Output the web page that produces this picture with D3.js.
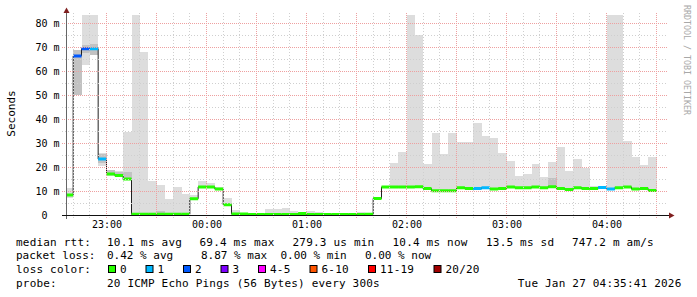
<!DOCTYPE html>
<html>
<head>
<meta charset="utf-8">
<script src="https://cdn.jsdelivr.net/npm/d3@7"></script>
<style>
  body { margin: 0; background: #fff; }
  text { font-family: "DejaVu Sans Mono", monospace; }
</style>
</head>
<body>
<svg id="chart" width="697" height="297"></svg>
<script>
// median rtt per 5 minute step, ms (first step starts 22:35)
var median = [8.5, 66.5, 69.5, 69.5, 23.5, 17.3, 16.7, 15.2, 0.5, 0.5,
  0.5, 0.5, 0.5, 0.5, 0.5, 7.0, 11.9, 11.9, 11.0, 4.5,
  0.6, 0.6, 0.4, 0.4, 0.4, 0.4, 0.4, 0.4, 0.8, 0.4,
  0.4, 0.4, 0.4, 0.4, 0.4, 0.4, 0.5, 7.1, 11.9, 11.9,
  11.9, 11.9, 12.0, 11.2, 10.3, 10.3, 10.3, 11.6, 11.2, 11.2,
  11.6, 11.0, 11.2, 11.9, 11.6, 11.6, 11.9, 11.6, 12.0, 11.2,
  10.8, 11.6, 11.3, 11.3, 11.7, 11.0, 11.6, 11.9, 11.0, 11.2,
  10.4];
// lost pings per step (index into lossColors)
var loss = [0, 2, 2, 1, 1, 0, 0, 0, 0, 0,
  0, 0, 0, 0, 0, 0, 0, 0, 0, 0,
  0, 0, 0, 0, 0, 0, 0, 0, 0, 0,
  0, 0, 0, 0, 0, 0, 0, 0, 0, 0,
  0, 0, 0, 0, 0, 0, 0, 0, 0, 1,
  1, 0, 0, 0, 0, 0, 0, 0, 0, 0,
  0, 0, 0, 0, 1, 1, 0, 0, 0, 0,
  0];
// smoke range (min / max ping of the step), ms
var smokeMin = [7.5, 50.2, 62.7, 66.8, 20.7, 16.5, 16.0, 14.7, 0.2, 0.2,
  0.2, 0.2, 0.2, 0.2, 0.2, 6.7, 11.5, 11.5, 10.6, 4.2,
  0.2, 0.2, 0.2, 0.2, 0.2, 0.2, 0.2, 0.2, 0.2, 0.2,
  0.2, 0.2, 0.2, 0.2, 0.2, 0.2, 0.2, 6.8, 11.4, 11.4,
  11.4, 11.4, 11.5, 10.7, 9.8, 9.8, 9.8, 11.1, 10.7, 10.7,
  11.1, 10.5, 10.7, 11.4, 11.1, 11.1, 11.4, 11.1, 11.5, 10.7,
  10.3, 11.1, 10.8, 10.8, 11.2, 10.5, 11.1, 11.4, 10.5, 10.7,
  9.9];
var smokeMax = [11.6, 69.0, 95, 95, 25.9, 19.1, 18.7, 34.9, 95, 68.2,
  14.5, 12.7, 6.9, 11.9, 9.0, 8.5, 14.4, 13.4, 11.9, 7.4,
  2.3, 0.8, 1.0, 1.0, 2.7, 2.7, 3.2, 1.8, 1.0, 1.8,
  1.4, 1.0, 1.0, 1.0, 1.0, 1.4, 1.2, 7.2, 12.2, 21.9,
  26.4, 95, 75.2, 21.4, 34.4, 25.6, 34.4, 30.6, 30.6, 38.5,
  33.1, 32.1, 26.0, 22.7, 16.3, 17.3, 21.4, 16.0, 22.3, 28.5,
  18.5, 23.5, 19.9, 12.1, 12.4, 95, 95, 31.0, 24.4, 21.0,
  24.4];
// denser part of the smoke (null = none)
var innerMin = [null, 50.2, 67.7, 67.0, 21.8, 16.8, 16.2, 14.8, null, null,
  null, 0.2, null, null, null, null, null, null, null, null];
var innerMax = [null, 69.0, 71.0, 71.5, 25.5, 18.8, 18.3, 18.3, null, null,
  null, 1.8, null, null, null, null, null, null, null, null];
innerMin[58] = 11.3; innerMax[58] = 15.6;

var lossColors = ["#26ff00", "#00b8ff", "#0059ff", "#7e00ff", "#ff00ff", "#ff5500", "#ff0000", "#a00000"];
var lossLabels = ["0", "1", "2", "3", "4-5", "6-10", "11-19", "20/20"];
var yTicks = [0, 10, 20, 30, 40, 50, 60, 70, 80];

var firstStep = Date.UTC(2026, 0, 26, 22, 35);
var stepMs = 300 * 1000;

var svg = d3.select("#chart");
svg.append("rect").attr("width", 697).attr("height", 297).attr("fill", "#fff");

var x = d3.scaleUtc()
  .domain([new Date(Date.UTC(2026, 0, 26, 22, 36)), new Date(Date.UTC(2026, 0, 27, 4, 36))])
  .range([66.5, 666.5]);
var y = d3.scaleLinear().domain([0, 83.3333]).range([215.5, 15.5]);

function stepStart(i) { return new Date(firstStep + i * stepMs); }
function stepEnd(i) { return new Date(firstStep + (i + 1) * stepMs); }

svg.append("clipPath").attr("id", "plot")
  .append("rect").attr("x", 66.5).attr("y", 15).attr("width", 600).attr("height", 201);

var plot = svg.append("g").attr("clip-path", "url(#plot)");

// smoke
plot.selectAll("rect.smoke")
  .data(median)
  .enter().append("rect")
  .attr("class", "smoke")
  .attr("x", function(d, i) { return x(stepStart(i)); })
  .attr("width", function(d, i) { return x(stepEnd(i)) - x(stepStart(i)); })
  .attr("y", function(d, i) { return y(smokeMax[i]); })
  .attr("height", function(d, i) { return y(smokeMin[i]) - y(smokeMax[i]); })
  .attr("fill", "#dddddd")
  .attr("shape-rendering", "crispEdges");

plot.selectAll("rect.inner")
  .data(innerMin.map(function(d, i) { return i; }).filter(function(i) { return innerMin[i] != null; }))
  .enter().append("rect")
  .attr("class", "inner")
  .attr("x", function(i) { return x(stepStart(i)); })
  .attr("width", function(i) { return x(stepEnd(i)) - x(stepStart(i)); })
  .attr("y", function(i) { return y(innerMax[i]); })
  .attr("height", function(i) { return y(innerMin[i]) - y(innerMax[i]); })
  .attr("fill", "#c2c2c2")
  .attr("shape-rendering", "crispEdges");

// grid
var minorX = x.ticks(d3.utcMinute.every(10)).filter(function(d) { return d.getUTCMinutes() % 30 != 0; });
var majorX = x.ticks(d3.utcMinute.every(30));
var grid = svg.append("g");
grid.selectAll("line.vmin").data(minorX).enter().append("line")
  .attr("x1", function(d) { return Math.round(x(d) - 0.5) + 0.5; })
  .attr("x2", function(d) { return Math.round(x(d) - 0.5) + 0.5; })
  .attr("y1", 13).attr("y2", 219)
  .attr("stroke", "#cfcfcf").attr("stroke-dasharray", "1,2");
grid.selectAll("line.vmaj").data(majorX).enter().append("line")
  .attr("x1", function(d) { return Math.round(x(d) - 0.5) + 0.5; })
  .attr("x2", function(d) { return Math.round(x(d) - 0.5) + 0.5; })
  .attr("y1", 13).attr("y2", 219)
  .attr("stroke", "#eea0a0").attr("stroke-dasharray", "1,1");
grid.selectAll("line.hmin").data([5, 15, 25, 35, 45, 55, 65, 75]).enter().append("line")
  .attr("x1", 62).attr("x2", 668)
  .attr("y1", function(d) { return Math.round(y(d) - 0.5) + 0.5; })
  .attr("y2", function(d) { return Math.round(y(d) - 0.5) + 0.5; })
  .attr("stroke", "#cfcfcf").attr("stroke-dasharray", "1,2");
grid.selectAll("line.hmaj").data(yTicks.slice(1)).enter().append("line")
  .attr("x1", 62).attr("x2", 668)
  .attr("y1", function(d) { return Math.round(y(d) - 0.5) + 0.5; })
  .attr("y2", function(d) { return Math.round(y(d) - 0.5) + 0.5; })
  .attr("stroke", "#eea0a0").attr("stroke-dasharray", "1,1");

// median: black step line underneath, colored by loss on top
var pts = [];
median.forEach(function(m, i) { pts.push([stepStart(i), m]); pts.push([stepEnd(i), m]); });
plot.append("path")
  .attr("d", d3.line().x(function(d) { return x(d[0]); }).y(function(d) { return y(d[1]); })(pts))
  .attr("fill", "none").attr("stroke", "#202020").attr("stroke-width", 1);

plot.selectAll("line.med")
  .data(median)
  .enter().append("line")
  .attr("x1", function(d, i) { return x(stepStart(i)); })
  .attr("x2", function(d, i) { return x(stepEnd(i)); })
  .attr("y1", function(d) { return y(d); })
  .attr("y2", function(d) { return y(d); })
  .attr("stroke", function(d, i) { return lossColors[loss[i]]; })
  .attr("stroke-width", 3);

// axes lines and arrows
svg.append("line").attr("x1", 66.5).attr("x2", 66.5).attr("y1", 11).attr("y2", 219)
  .attr("stroke", "#666");
svg.append("line").attr("x1", 62).attr("x2", 670).attr("y1", 215.5).attr("y2", 215.5)
  .attr("stroke", "#111");
svg.append("path").attr("d", "M63.5,13L69.5,13L66.5,7.5Z").attr("fill", "#7f1f1f");
svg.append("path").attr("d", "M669,212.5L669,218.5L674.5,215.5Z").attr("fill", "#7f1f1f");

// y labels
var yAxis = svg.append("g")
  .attr("transform", "translate(62,0)")
  .call(d3.axisLeft(y).tickValues(yTicks).tickSize(0).tickPadding(2.5)
    .tickFormat(function(d) { return d == 0 ? "0" : d + " m"; }));
yAxis.select(".domain").remove();
yAxis.selectAll("text").attr("font-family", "DejaVu Sans Mono").attr("font-size", 10).attr("fill", "#000");
yAxis.selectAll(".tick").filter(function(d) { return d == 0; }).select("text").attr("x", -14.5);

// x labels
var xAxis = svg.append("g")
  .attr("transform", "translate(0,215.5)")
  .call(d3.axisBottom(x).ticks(d3.utcHour.every(1)).tickSize(0).tickPadding(5.5)
    .tickFormat(d3.utcFormat("%H:%M")));
xAxis.select(".domain").remove();
xAxis.selectAll("text").attr("font-family", "DejaVu Sans Mono").attr("font-size", 10).attr("fill", "#000");

// axis title and watermark
svg.append("text")
  .attr("transform", "translate(15,113.5) rotate(-90)")
  .attr("text-anchor", "middle").attr("font-size", 11).attr("fill", "#000")
  .text("Seconds");
svg.append("text")
  .attr("transform", "translate(684,5) rotate(90)")
  .attr("font-size", 8.3).attr("fill", "#a8a8a8")
  .text("RRDTOOL / TOBI OETIKER");

// legend
var legend = svg.append("g").attr("font-size", 11).attr("letter-spacing", 0.2).attr("fill", "#000");
var line1 = [["median rtt:", 16], ["10.1 ms avg", 107], ["69.4 ms max", 199.5], ["279.3 us min", 292.5],
  ["10.4 ms now", 392.5], ["13.5 ms sd", 486], ["747.2 m am/s", 572]];
line1.forEach(function(t) {
  legend.append("text").attr("x", t[1]).attr("y", 245.5).text(t[0]);
});
var line2 = [["packet loss:", 16], ["0.42 % avg", 107], ["8.87 % max", 201], ["0.00 % min", 280.5], ["0.00 % now", 365]];
line2.forEach(function(t) {
  legend.append("text").attr("x", t[1]).attr("y", 259).attr("letter-spacing", 0).text(t[0]);
});
legend.append("text").attr("x", 16).attr("y", 272.8).text("loss color:");
var bx = 108.5;
lossLabels.forEach(function(l, i) {
  legend.append("rect").attr("x", bx).attr("y", 265.5).attr("width", 7).attr("height", 7)
    .attr("fill", lossColors[i]).attr("stroke", "#000").attr("stroke-width", 1);
  legend.append("text").attr("x", bx + 11.5).attr("y", 272.8).text(l);
  bx = bx + 11.5 + l.length * 7 + 19;
});
legend.append("text").attr("x", 16).attr("y", 286.5).text("probe:");
legend.append("text").attr("x", 107).attr("y", 286.5).text("20 ICMP Echo Pings (56 Bytes) every 300s");
legend.append("text").attr("x", 681.5).attr("y", 286.5).attr("text-anchor", "end").text("Tue Jan 27 04:35:41 2026");
</script>
</body>
</html>
